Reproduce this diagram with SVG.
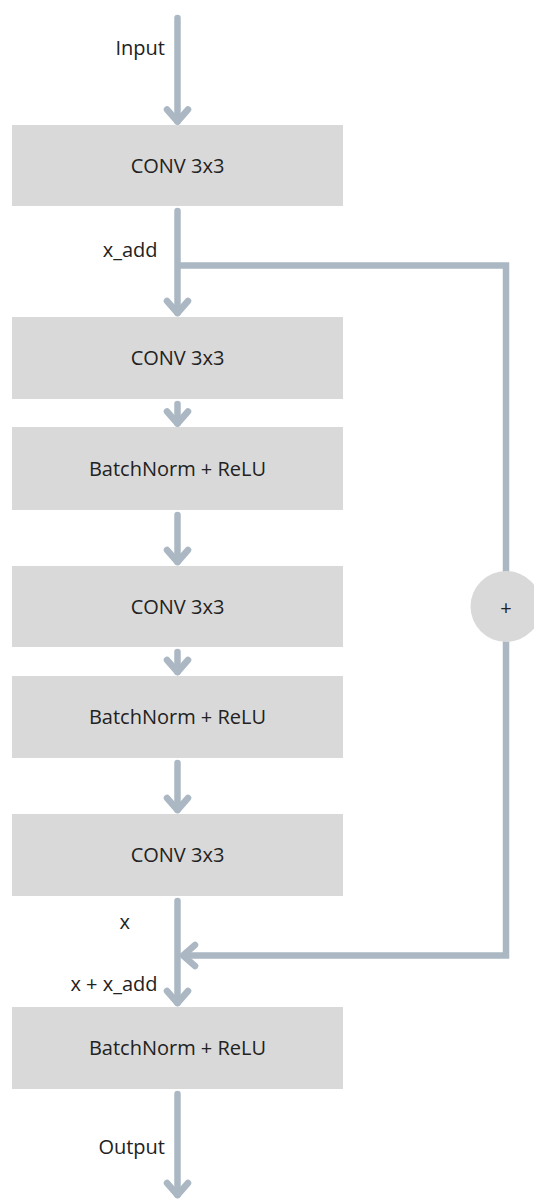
<svg xmlns="http://www.w3.org/2000/svg" width="534" height="1199" viewBox="0 0 534 1199">
  <style>
    .box { fill: #d9d9d9; }
    .lbl { font-family: "Open Sans", "Noto Sans", sans-serif; font-size: 20px; fill: #222222; }
    .mid { text-anchor: middle; }
    .end { text-anchor: end; }
    .flow { fill: none; stroke: #abb8c3; stroke-width: 6.5; stroke-linecap: round; stroke-linejoin: round; marker-end: url(#chev); }
    .skip { fill: none; stroke: #abb8c3; stroke-width: 6.5; stroke-linecap: butt; stroke-linejoin: miter; }
  </style>
  <defs>
    <marker id="chev" markerUnits="userSpaceOnUse" viewBox="-20 -20 40 40" markerWidth="40" markerHeight="40" refX="0" refY="0" orient="auto" overflow="visible">
      <path d="M-12,-10.5 L0,0 L-12,10.5" fill="none" stroke="#abb8c3" stroke-width="6.5" stroke-linecap="round" stroke-linejoin="round"/>
    </marker>
  </defs>

  <rect width="534" height="1199" fill="#ffffff"/>

  <!-- connectors -->
  <g id="connectors">
    <path class="flow" d="M177.5,18 V121.5"/>
    <path class="flow" d="M177.5,211 V313"/>
    <path class="flow" d="M177.5,404 V423.5"/>
    <path class="flow" d="M177.5,515 V562"/>
    <path class="flow" d="M177.5,652 V672"/>
    <path class="flow" d="M177.5,763 V810"/>
    <path class="flow" d="M177.5,901 V1003"/>
    <path class="flow" d="M177.5,1094 V1195"/>
    <!-- residual branch: x_add around the block into the sum -->
    <path class="skip" d="M177.5,265.5 H506 V572"/>
    <path class="skip" d="M506,641 V955.5 H183" marker-end="url(#chev)"/>
  </g>

  <!-- edge labels -->
  <g id="edge-labels">
    <text class="lbl end" x="165" y="54.5">Input</text>
    <text class="lbl end" x="157.5" y="257">x_add</text>
    <text class="lbl end" x="130" y="929">x</text>
    <text class="lbl end" x="157.5" y="990.5">x + x_add</text>
    <text class="lbl end" x="165" y="1154">Output</text>
  </g>

  <g id="conv1">
    <rect class="box" x="12" y="125" width="331" height="81"/>
    <text class="lbl mid" x="177.5" y="173">CONV 3x3</text>
  </g>
  <g id="conv2">
    <rect class="box" x="12" y="317" width="331" height="82"/>
    <text class="lbl mid" x="177.5" y="365">CONV 3x3</text>
  </g>
  <g id="bnrelu1">
    <rect class="box" x="12" y="427" width="331" height="83"/>
    <text class="lbl mid" x="177.5" y="475.5">BatchNorm + ReLU</text>
  </g>
  <g id="conv3">
    <rect class="box" x="12" y="566" width="331" height="81"/>
    <text class="lbl mid" x="177.5" y="613.5">CONV 3x3</text>
  </g>
  <g id="bnrelu2">
    <rect class="box" x="12" y="676" width="331" height="82"/>
    <text class="lbl mid" x="177.5" y="724">BatchNorm + ReLU</text>
  </g>
  <g id="conv4">
    <rect class="box" x="12" y="814" width="331" height="82"/>
    <text class="lbl mid" x="177.5" y="862">CONV 3x3</text>
  </g>
  <g id="bnrelu3">
    <rect class="box" x="12" y="1007" width="331" height="82"/>
    <text class="lbl mid" x="177.5" y="1055">BatchNorm + ReLU</text>
  </g>

  <g id="sum">
    <circle class="box" cx="506" cy="606.5" r="35.5"/>
    <text class="lbl mid" x="506" y="614.5">+</text>
  </g>
</svg>
